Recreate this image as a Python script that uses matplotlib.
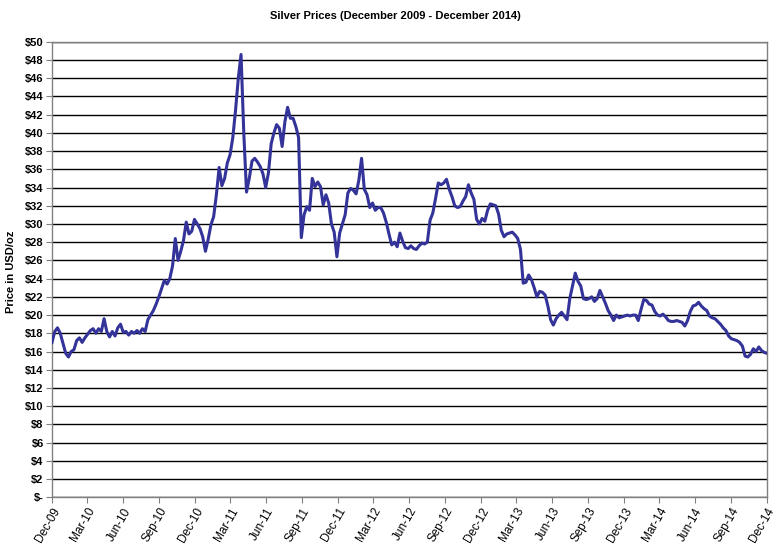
import matplotlib
matplotlib.use('Agg')
import matplotlib.pyplot as plt
import pandas as pd

plt.rcParams['font.family'] = ['Liberation Sans', 'DejaVu Sans']

# weekly silver prices (USD/oz), starting 31 Dec 2009
prices_2010 = [17.0, 18.2, 18.6, 18.0, 16.9, 15.8, 15.4, 16.0, 16.2, 17.2, 17.5, 17.0, 17.5,
               17.9, 18.3, 18.5, 18.0, 18.5, 18.2, 19.6, 18.2, 17.6, 18.2, 17.7, 18.6, 19.0,
               18.1, 18.2, 17.8, 18.2, 18.0, 18.3, 18.0, 18.5, 18.2, 19.5, 20.0, 20.5, 21.2,
               22.0, 22.9, 23.8, 23.4, 24.0, 25.4, 28.4, 26.0, 27.0, 28.2, 30.2, 28.9, 29.2, 30.5]
prices_2011 = [30.0, 29.5, 28.6, 27.0, 28.3, 29.9, 30.8, 33.2, 36.2, 34.2, 35.0, 36.7, 37.6,
               39.5, 42.5, 46.0, 48.6, 40.0, 33.5, 35.0, 36.9, 37.2, 36.8, 36.3, 35.5, 34.0,
               35.6, 38.8, 40.0, 40.9, 40.5, 38.5, 41.2, 42.8, 41.6, 41.6, 40.7, 39.5, 28.5,
               31.0, 31.9, 31.5, 35.0, 34.1, 34.6, 34.1, 32.1, 33.2, 32.3, 30.0, 29.1, 26.4]
prices_2012 = [29.0, 30.0, 31.0, 33.4, 33.9, 33.7, 33.3, 34.8, 37.2, 33.8, 33.2, 31.8, 32.3,
               31.5, 31.8, 31.8, 31.2, 30.2, 28.9, 27.7, 28.0, 27.5, 29.0, 28.1, 27.4, 27.3,
               27.6, 27.3, 27.2, 27.6, 27.9, 27.8, 28.0, 30.4, 31.2, 32.8, 34.5, 34.3, 34.5,
               34.9, 33.8, 33.0, 32.0, 31.8, 31.9, 32.5, 33.0, 34.3, 33.4, 32.7, 30.5, 30.0]
prices_2013 = [30.6, 30.3, 31.5, 32.2, 32.1, 32.0, 31.1, 29.3, 28.6, 28.9, 29.0, 29.1, 28.8,
               28.4, 27.2, 23.5, 23.6, 24.4, 23.9, 23.0, 22.0, 22.6, 22.5, 22.2, 21.0, 19.5,
               18.9, 19.6, 20.0, 20.3, 19.9, 19.5, 21.8, 23.2, 24.6, 23.7, 23.2, 21.8, 21.7,
               21.8, 22.0, 21.5, 21.8, 22.7, 22.0, 21.3, 20.5, 20.0, 19.4, 20.0, 19.7, 19.8]
prices_2014 = [19.9, 20.0, 19.9, 20.0, 20.0, 19.4, 20.6, 21.7, 21.6, 21.2, 21.1, 20.4, 20.0,
               19.9, 20.1, 19.8, 19.4, 19.3, 19.3, 19.4, 19.3, 19.2, 18.8, 19.4, 20.4, 21.0,
               21.1, 21.4, 21.0, 20.7, 20.5, 19.9, 19.7, 19.6, 19.3, 19.0, 18.6, 18.3, 17.7,
               17.4, 17.3, 17.2, 17.0, 16.6, 15.5, 15.4, 15.7, 16.3, 16.0, 16.5, 16.1, 15.9, 15.8]

prices = prices_2010 + prices_2011 + prices_2012 + prices_2013 + prices_2014
dates = pd.date_range('2009-12-31', periods=len(prices), freq='7D')

y_ticks = list(range(0, 51, 2))
y_labels = ['$-' if v == 0 else '$' + str(v) for v in y_ticks]
x_ticks = pd.date_range('2010-01-01', '2015-01-01', freq='3MS') - pd.Timedelta(days=1)
x_labels = [d.strftime('%b-%y') for d in x_ticks]

fig = plt.figure(figsize=(7.81, 5.49), dpi=100)
ax = fig.add_axes([0.0666, 0.0942, 0.9155, 0.8298])

ax.plot(dates, prices, color='#333399', lw=2.2, zorder=3)

ax.set_xlim(dates[0], dates[-1])
ax.set_ylim(0, 50)
ax.set_yticks(y_ticks)
ax.set_yticklabels(y_labels, fontsize=8, fontweight='bold')
ax.set_xticks(x_ticks)
ax.set_xticklabels(x_labels, fontsize=8.5, rotation=60, ha='right', rotation_mode='anchor')

ax.yaxis.grid(True, color='black', lw=1)
for s in ax.spines.values():
    s.set_color('#808080')
    s.set_linewidth(1)
ax.tick_params(axis='both', direction='out', length=4, color='#808080', pad=2)

fig.text(0.506, 0.971, 'Silver Prices (December 2009 - December 2014)',
         ha='center', va='center', fontsize=8, fontweight='bold')
fig.text(0.014, 0.505, 'Price in USD/oz', rotation=90, ha='center', va='center',
         fontsize=8, fontweight='bold')

fig.savefig('out.png', dpi=100)
